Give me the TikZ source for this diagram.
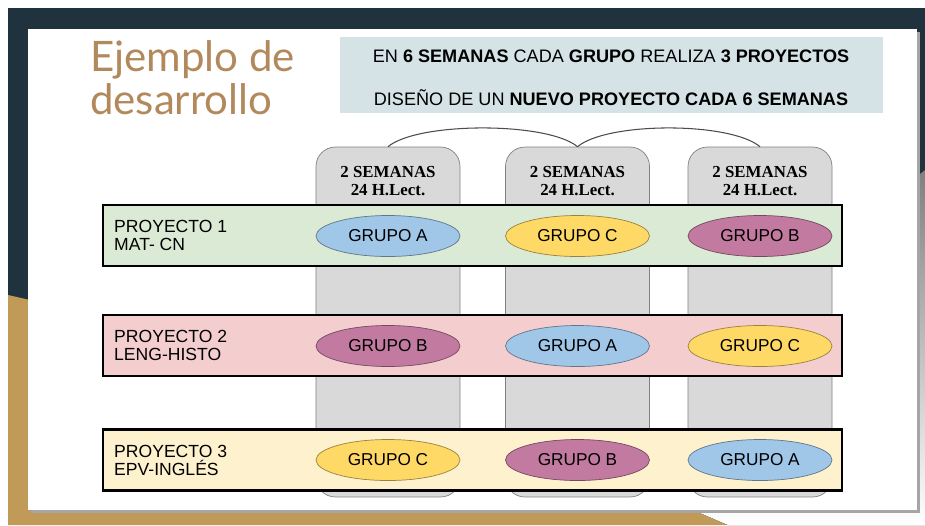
\documentclass[tikz,border=0pt]{standalone}
\usepackage{fontspec}
\setmainfont{Liberation Sans}
\newfontfamily\titlefont{Lato}
\newfontfamily\colfont{Liberation Serif}
\usetikzlibrary{shapes.geometric}
\definecolor{navy}{RGB}{31,50,62}
\definecolor{gold}{RGB}{193,154,88}
\definecolor{shade}{RGB}{214,214,214}
\definecolor{titlebrown}{RGB}{178,137,92}
\definecolor{headbox}{RGB}{214,227,230}
\definecolor{colgray}{RGB}{217,217,217}
\definecolor{bandgreen}{RGB}{218,234,212}
\definecolor{bandpink}{RGB}{244,206,207}
\definecolor{bandyellow}{RGB}{253,241,206}
\definecolor{grpblue}{RGB}{160,198,232}
\definecolor{grpyellow}{RGB}{255,217,102}
\definecolor{grpmagenta}{RGB}{194,122,160}
\begin{document}
\begin{tikzpicture}[x=0.02cm,y=-0.02cm,
  semana/.style={draw=black!50,fill=colgray,rounded corners=11pt,minimum width=2.88cm,minimum height=7.0cm,inner sep=0pt},
  horas/.style={font=\colfont\bfseries\fontsize{9.6}{10.3}\selectfont,align=center},
  banda/.style={draw=black,line width=1.4pt,minimum width=14.78cm,minimum height=1.22cm,inner sep=0pt},
  proy/.style={font=\fontsize{10}{10.3}\selectfont,align=left,anchor=west},
  grupo/.style={ellipse,draw=#1!60!black,fill=#1,minimum width=2.88cm,minimum height=0.82cm,inner sep=0pt,font=\fontsize{9.8}{11}\selectfont},
  arco/.style={draw=black!70,line width=0.6pt}]
\useasboundingbox (0,0) rectangle (925,525);
% fondo
\fill[white] (0,0) rectangle (925,525);
\fill[navy] (8,8) rectangle (925,525);
\fill[gold] (8,295) -- (30,300) -- (30,505) -- (693,510) -- (728,525) -- (8,525) -- cycle;
\fill[shade] (925,170) -- (912,180) -- (912,505) -- (693,510) -- (728,525) -- (925,525) -- cycle;
\fill[black!35] (31,32) rectangle (920,513);
\fill[white] (28,29) rectangle (917,510);
% titulo
\node[anchor=north west,align=left,text=titlebrown,font=\titlefont\fontsize{23.9}{24.5}\selectfont] (titulo) at (84,34) {Ejemplo de\\desarrollo};
\fill[headbox] (340,37) rectangle (883,113);
\node[font=\fontsize{10.3}{11}\selectfont] (linea1) at (611,56) {EN \textbf{6 SEMANAS} CADA \textbf{GRUPO} REALIZA \textbf{3 PROYECTOS}};
\node[font=\fontsize{10.3}{11}\selectfont] (linea2) at (611,98) {DISEÑO DE UN \textbf{NUEVO PROYECTO CADA 6 SEMANAS}};
% columnas
\node[semana] (c1) at (388,322) {};
\node[semana] (c2) at (577.5,322) {};
\node[semana] (c3) at (760,322) {};
\draw[arco] (c1.north) .. controls +(30,-25) and +(-30,-25) .. (c2.north);
\draw[arco] (c2.north) .. controls +(30,-25) and +(-30,-25) .. (c3.north);
\node[horas] (h1) at (388,181) {2 SEMANAS\\24 H.Lect.};
\node[horas] (h2) at (577.5,181) {2 SEMANAS\\24 H.Lect.};
\node[horas] (h3) at (760,181) {2 SEMANAS\\24 H.Lect.};
% proyectos
\node[banda,fill=bandgreen] (b1) at (472.5,235.5) {};
\node[banda,fill=bandpink] (b2) at (472.5,345.5) {};
\node[banda,fill=bandyellow] (b3) at (472.5,460) {};
\node[proy] (p1) at (108,235.5) {PROYECTO 1\\MAT- CN};
\node[proy] (p2) at (108,345.5) {PROYECTO 2\\LENG-HISTO};
\node[proy] (p3) at (108,460) {PROYECTO 3\\EPV-INGLÉS};
\node[grupo=grpblue] (g11) at (388,236) {GRUPO A};
\node[grupo=grpyellow] (g12) at (577.5,236) {GRUPO C};
\node[grupo=grpmagenta] (g13) at (760,236) {GRUPO B};
\node[grupo=grpmagenta] (g21) at (388,346) {GRUPO B};
\node[grupo=grpblue] (g22) at (577.5,346) {GRUPO A};
\node[grupo=grpyellow] (g23) at (760,346) {GRUPO C};
\node[grupo=grpyellow] (g31) at (388,460) {GRUPO C};
\node[grupo=grpmagenta] (g32) at (577.5,460) {GRUPO B};
\node[grupo=grpblue] (g33) at (760,460) {GRUPO A};
\end{tikzpicture}
\end{document}
